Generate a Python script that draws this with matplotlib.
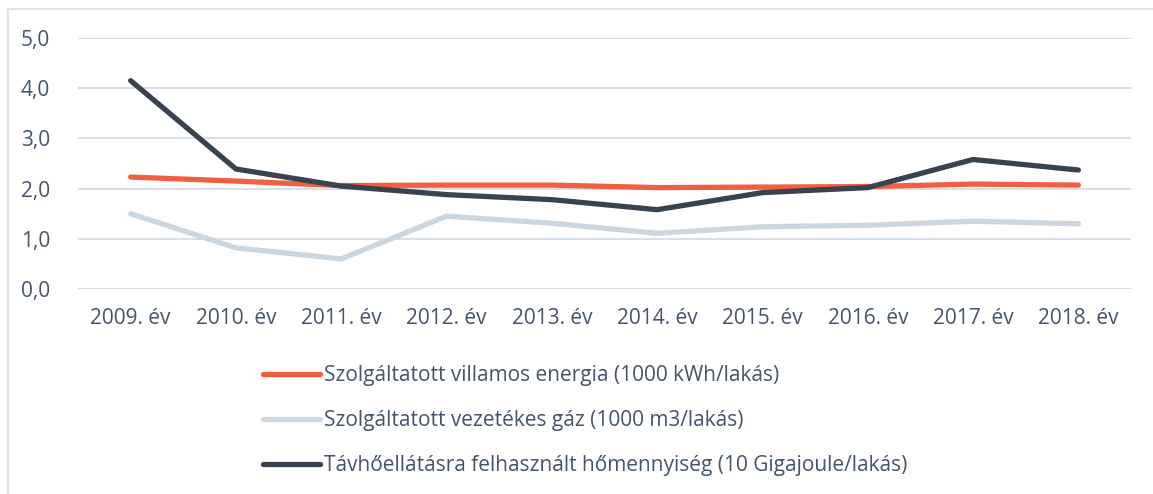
import matplotlib.pyplot as plt
from matplotlib.lines import Line2D

plt.rcParams['font.family'] = ['Open Sans', 'DejaVu Sans']

years = ['2009. év', '2010. év', '2011. év', '2012. év', '2013. év',
         '2014. év', '2015. év', '2016. év', '2017. év', '2018. év']
villamos = [2.23, 2.15, 2.06, 2.07, 2.07, 2.02, 2.03, 2.04, 2.09, 2.07]
gaz = [1.50, 0.82, 0.60, 1.45, 1.31, 1.11, 1.24, 1.27, 1.35, 1.30]
tavho = [4.15, 2.39, 2.05, 1.88, 1.78, 1.58, 1.92, 2.02, 2.58, 2.37]

labels = ['Szolgáltatott villamos energia (1000 kWh/lakás)',
          'Szolgáltatott vezetékes gáz (1000 m3/lakás)',
          'Távhőellátásra felhasznált hőmennyiség (10 Gigajoule/lakás)']
colors = ['#F05F3F', '#CCD6DE', '#38434F']
text_col = '#44546A'

fig = plt.figure(figsize=(11.53, 4.94), dpi=100)
ax = fig.add_axes([78 / 1153, 1 - 289 / 494, (1131 - 78) / 1153, 251 / 494])

x = range(len(years))
for ys, c, lab in zip([villamos, gaz, tavho], colors, labels):
    ax.plot(x, ys, color=c, lw=3.8, solid_capstyle='round',
            solid_joinstyle='round', label=lab)

ax.set_xlim(-0.5, len(years) - 0.5)
ax.set_ylim(0, 5)
ax.set_yticks([0, 1, 2, 3, 4, 5])
ax.set_yticklabels(['0,0', '1,0', '2,0', '3,0', '4,0', '5,0'])
ax.set_xticks(list(x))
ax.set_xticklabels(years)
ax.tick_params(length=0, labelsize=15, colors=text_col)
ax.tick_params(axis='y', pad=20)
ax.tick_params(axis='x', pad=14)
ax.grid(axis='y', color='#D6DCE5', lw=1.3)
ax.set_axisbelow(True)
for s in ax.spines.values():
    s.set_visible(False)

leg = fig.legend(loc='upper left', bbox_to_anchor=(255 / 1153, 1 - 357 / 494),
                 frameon=False, fontsize=15, handlelength=2.7,
                 handletextpad=0.2, labelspacing=1.15, borderaxespad=0)
for t in leg.get_texts():
    t.set_color(text_col)

# outer border of the chart area
fig.add_artist(Line2D([8 / 1153, 1], [1 - 9 / 494, 1 - 9 / 494], color='#D9DEE5', lw=1.2))
fig.add_artist(Line2D([8 / 1153, 8 / 1153], [0, 1 - 9 / 494], color='#D9DEE5', lw=1.2))

fig.savefig('out.png', dpi=100)
